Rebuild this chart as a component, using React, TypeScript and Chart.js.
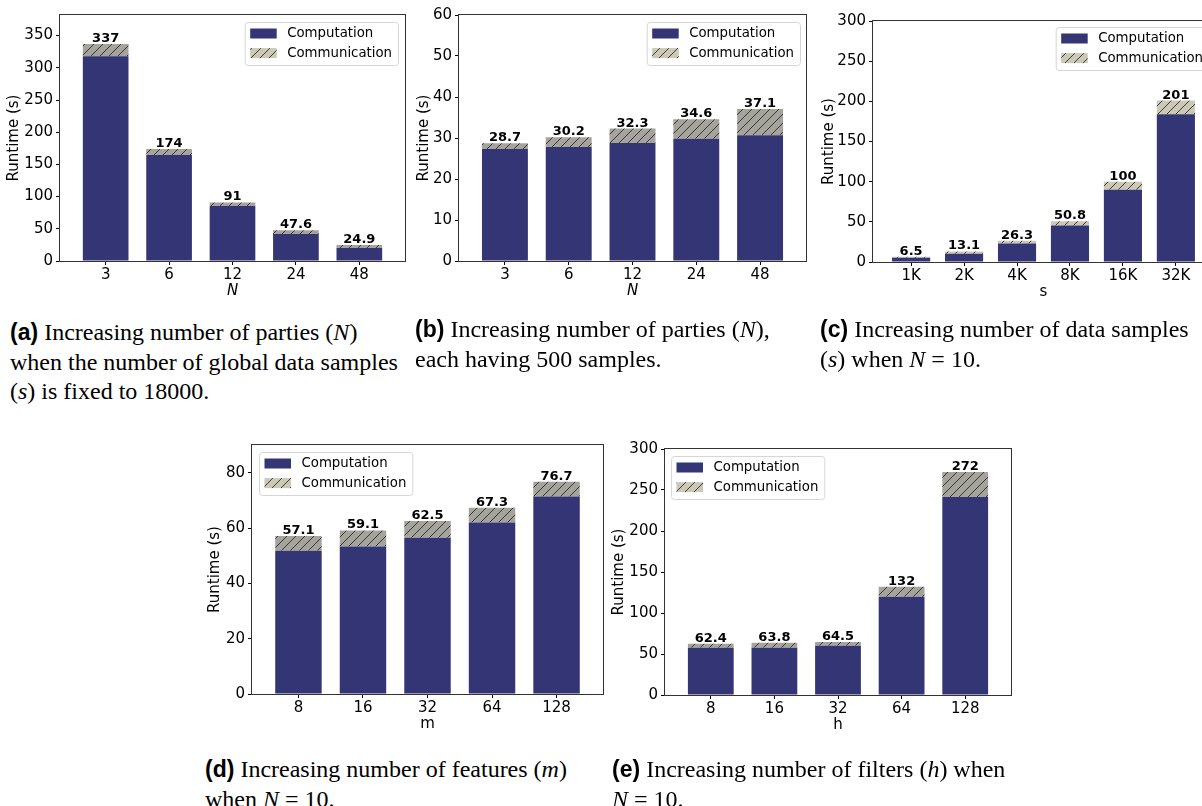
import React, { useEffect, useRef } from 'react';
import { Chart, registerables } from 'chart.js';

Chart.register(...registerables);
Chart.defaults.font.family = "'DejaVu Sans', sans-serif";
Chart.defaults.color = '#000';

// ---------- data ----------
const seriesLabels = ['Computation', 'Communication'];

// (a) Increasing number of parties, fixed global samples
const catA = ['3', '6', '12', '24', '48'];
const compA = [318, 164.5, 85.3, 41.9, 20.2];
const totalA = [337, 174, 91, 47.6, 24.9];
const ticksA = [0, 50, 100, 150, 200, 250, 300, 350];

// (b) Increasing number of parties, 500 samples each
const catB = ['3', '6', '12', '24', '48'];
const compB = [27.3, 27.8, 28.8, 29.8, 30.7];
const totalB = [28.7, 30.2, 32.3, 34.6, 37.1];
const ticksB = [0, 10, 20, 30, 40, 50, 60];

// (c) Increasing number of data samples
const catC = ['1K', '2K', '4K', '8K', '16K', '32K'];
const compC = [5.4, 10.4, 22.9, 45.4, 90, 183.8];
const totalC = [6.5, 13.1, 26.3, 50.8, 100, 201];
const ticksC = [0, 50, 100, 150, 200, 250, 300];

// (d) Increasing number of features
const catD = ['8', '16', '32', '64', '128'];
const compD = [51.8, 53.3, 56.5, 62, 71.4];
const totalD = [57.1, 59.1, 62.5, 67.3, 76.7];
const ticksD = [0, 20, 40, 60, 80];

// (e) Increasing number of filters
const catE = ['8', '16', '32', '64', '128'];
const compE = [57.7, 57.7, 60.1, 119.9, 241.5];
const totalE = [62.4, 63.8, 64.5, 132, 272];
const ticksE = [0, 50, 100, 150, 200, 250, 300];

// ---------- styles ----------
const NAVY = '#343575';
const HATCH_GRAY = '#a4a39c';
const HATCH_BEIGE = '#cbc9b6';
const HATCH_LINE = '#2b2b2b';
const PAD_T = 12;
const PAD_R = 12;
const Y_W = 60;
const X_H = 50;
const AX_FONT = 15;
const AX_LH = AX_FONT * 1.2;

function makeHatch(ctx: CanvasRenderingContext2D, bg: string, size = 9) {
  const c = document.createElement('canvas');
  c.width = size;
  c.height = size;
  const g = c.getContext('2d')!;
  g.fillStyle = bg;
  g.fillRect(0, 0, size, size);
  g.strokeStyle = HATCH_LINE;
  g.lineWidth = 0.9;
  g.beginPath();
  g.moveTo(0, size);
  g.lineTo(size, 0);
  g.moveTo(-2, 2);
  g.lineTo(2, -2);
  g.moveTo(size - 2, size + 2);
  g.lineTo(size + 2, size - 2);
  g.stroke();
  return ctx.createPattern(c, 'repeat')!;
}

const framePlugin = {
  id: 'frame',
  afterDatasetsDraw(chart: any) {
    const { ctx, chartArea: ca } = chart;
    ctx.save();
    ctx.strokeStyle = '#333';
    ctx.lineWidth = 1;
    ctx.strokeRect(Math.round(ca.left) - 0.5, Math.round(ca.top) - 0.5, Math.round(ca.right - ca.left) + 1, Math.round(ca.bottom - ca.top) + 1);
    ctx.restore();
  },
};

const valueLabelPlugin = {
  id: 'valueLabels',
  afterDatasetsDraw(chart: any, _args: any, opts: any) {
    const { ctx } = chart;
    const meta = chart.getDatasetMeta(chart.data.datasets.length - 1);
    ctx.save();
    ctx.font = "bold 13px 'DejaVu Sans'";
    ctx.fillStyle = '#000';
    ctx.textAlign = 'center';
    ctx.textBaseline = 'alphabetic';
    meta.data.forEach((el: any, i: number) => {
      ctx.fillText(String(opts.totals[i]), el.x, el.y - 2);
    });
    ctx.restore();
  },
};

const boxLegendPlugin = {
  id: 'boxLegend',
  afterDraw(chart: any, _args: any, opts: any) {
    const { ctx, chartArea: ca } = chart;
    ctx.save();
    ctx.font = "13.3px 'DejaVu Sans'";
    const labels = chart.data.datasets.map((d: any) => d.label);
    const tw = Math.max(...labels.map((l: string) => ctx.measureText(l).width));
    const w = 42.5 + tw + 6;
    const h = 43;
    const x = opts.pos === 'ul' ? ca.left + opts.inset : ca.right - opts.inset - w;
    const y = ca.top + opts.insetTop;
    ctx.beginPath();
    ctx.roundRect(x + 0.5, y + 0.5, w, h, 3);
    ctx.fillStyle = 'rgba(255,255,255,0.85)';
    ctx.fill();
    ctx.strokeStyle = '#d6d6d6';
    ctx.lineWidth = 1;
    ctx.stroke();
    labels.forEach((l: string, i: number) => {
      const rowY = y + 11.5 + i * 19.6;
      ctx.fillStyle = opts.patches[i];
      ctx.fillRect(x + 5.5, rowY - 5, 26.5, 10);
      ctx.fillStyle = '#000';
      ctx.textBaseline = 'middle';
      ctx.textAlign = 'left';
      ctx.fillText(l, x + 42.5, rowY);
    });
    ctx.restore();
  },
};

type PanelProps = {
  L: number; T: number; R: number; B: number;
  cats: string[]; comp: number[]; total: number[]; yTicks: number[]; yMax: number;
  xTitle: string; xItalic?: boolean; yTitleOff: number;
  legendPos: 'ul' | 'ur'; legendInset: number; legendInsetTop: number; commBg: string;
};

function Panel(p: PanelProps) {
  const ref = useRef<HTMLCanvasElement>(null);
  const W = p.R - p.L + Y_W + PAD_R;
  const H = p.B - p.T + PAD_T + X_H;
  useEffect(() => {
    const canvas = ref.current!;
    const ctx = canvas.getContext('2d')!;
    const commPattern = makeHatch(ctx, p.commBg);
    const legendPattern = makeHatch(ctx, HATCH_BEIGE);
    const n = p.cats.length;
    const tickGrid = { display: true, drawOnChartArea: false, drawTicks: true, tickLength: 4, color: '#000', lineWidth: 1, offset: false };
    const chart = new Chart(canvas, {
      type: 'bar',
      data: {
        datasets: [
          {
            label: seriesLabels[0],
            data: p.comp.map((v, i) => ({ x: i, y: v })),
            backgroundColor: NAVY,
            borderWidth: 0,
            barPercentage: 0.72,
            categoryPercentage: 1,
          },
          {
            label: seriesLabels[1],
            data: p.comp.map((v, i) => ({ x: i, y: +(p.total[i] - v).toFixed(3) })),
            backgroundColor: commPattern,
            borderWidth: 0,
            barPercentage: 0.72,
            categoryPercentage: 1,
          },
        ],
      } as any,
      options: {
        animation: false,
        responsive: false,
        devicePixelRatio: 1,
        layout: { padding: { left: 0, top: PAD_T, right: PAD_R, bottom: 0 } },
        plugins: {
          legend: { display: false },
          tooltip: { enabled: false },
          valueLabels: { totals: p.total },
          boxLegend: { pos: p.legendPos, inset: p.legendInset, insetTop: p.legendInsetTop, patches: [NAVY, legendPattern] },
        } as any,
        scales: {
          x: {
            type: 'linear',
            stacked: true,
            offset: false,
            min: -0.72,
            max: n - 1 + 0.72,
            grid: tickGrid,
            border: { display: false },
            ticks: {
              font: { size: AX_FONT },
              color: '#000',
              padding: 1,
              autoSkip: false,
              maxRotation: 0,
              callback: (v: any) => p.cats[v as number] ?? '',
            },
            afterBuildTicks: (s: any) => { s.ticks = p.cats.map((_, i) => ({ value: i })); },
            afterFit: (s: any) => { s.height = X_H; },
            title: {
              display: true,
              text: p.xTitle,
              color: '#000',
              font: { size: AX_FONT, style: p.xItalic ? 'italic' : 'normal' },
              padding: { top: 0, bottom: 11 },
            },
          },
          y: {
            type: 'linear',
            stacked: true,
            min: 0,
            max: p.yMax,
            grid: tickGrid,
            border: { display: false },
            ticks: { font: { size: AX_FONT }, color: '#000', padding: 3 },
            afterBuildTicks: (s: any) => { s.ticks = p.yTicks.map((v) => ({ value: v })); },
            afterFit: (s: any) => { s.width = Y_W; },
            title: {
              display: true,
              text: 'Runtime (s)',
              color: '#000',
              font: { size: AX_FONT },
              padding: { top: Y_W - AX_LH / 2 - p.yTitleOff, bottom: 0 },
            },
          },
        } as any,
      },
      plugins: [framePlugin, valueLabelPlugin, boxLegendPlugin] as any,
    });
    return () => chart.destroy();
  }, []);
  return (
    <canvas
      ref={ref}
      width={W}
      height={H}
      style={{ position: 'absolute', left: p.L - Y_W, top: p.T - PAD_T, width: W, height: H }}
    />
  );
}

const capStyle: React.CSSProperties = {
  position: 'absolute',
  fontFamily: "'Liberation Serif', 'Times New Roman', serif",
  fontSize: 24,
  lineHeight: '29.5px',
  whiteSpace: 'nowrap',
  color: '#000',
};
const tagStyle: React.CSSProperties = {
  fontFamily: "'Liberation Sans', Arial, sans-serif",
  fontWeight: 'bold',
  fontSize: 23,
};

function Caption({ left, top, tag, children }: { left: number; top: number; tag: string; children: React.ReactNode }) {
  return (
    <div style={{ ...capStyle, left, top }}>
      <span style={tagStyle}>({tag})</span> {children}
    </div>
  );
}

export default function App() {
  return (
    <div style={{ position: 'absolute', left: 0, top: 0, width: 1202, height: 806, overflow: 'hidden', background: '#fff' }}>
      <Panel L={60} T={15} R={405} B={261} cats={catA} comp={compA} total={totalA} yTicks={ticksA} yMax={382}
        xTitle="N" xItalic yTitleOff={46} legendPos="ur" legendInset={7} legendInsetTop={7} commBg={HATCH_GRAY} />
      <Panel L={459} T={15} R={806} B={261} cats={catB} comp={compB} total={totalB} yTicks={ticksB} yMax={60}
        xTitle="N" xItalic yTitleOff={35} legendPos="ur" legendInset={6} legendInsetTop={7} commBg={HATCH_GRAY} />
      <Panel L={873} T={21} R={1214} B={262} cats={catC} comp={compC} total={totalC} yTicks={ticksC} yMax={300}
        xTitle="s" yTitleOff={44} legendPos="ur" legendInset={5} legendInsetTop={6} commBg={HATCH_BEIGE} />
      <Panel L={252} T={445} R={603} B={694} cats={catD} comp={compD} total={totalD} yTicks={ticksD} yMax={90}
        xTitle="m" yTitleOff={37} legendPos="ul" legendInset={7} legendInsetTop={7} commBg={HATCH_GRAY} />
      <Panel L={665} T={449} R={1011} B={695} cats={catE} comp={compE} total={totalE} yTicks={ticksE} yMax={300}
        xTitle="h" yTitleOff={46} legendPos="ul" legendInset={6} legendInsetTop={7} commBg={HATCH_GRAY} />

      <Caption left={10} top={318} tag="a">
        Increasing number of parties (<i>N</i>)<br />when the number of global data samples<br />(<i>s</i>) is fixed to 18000.
      </Caption>
      <Caption left={415} top={315} tag="b">
        Increasing number of parties (<i>N</i>),<br />each having 500 samples.
      </Caption>
      <Caption left={820} top={315} tag="c">
        Increasing number of data samples<br />(<i>s</i>) when <i>N</i> = 10.
      </Caption>
      <Caption left={205} top={755} tag="d">
        Increasing number of features (<i>m</i>)<br />when <i>N</i> = 10.
      </Caption>
      <Caption left={612} top={755} tag="e">
        Increasing number of filters (<i>h</i>) when<br /><i>N</i> = 10.
      </Caption>
    </div>
  );
}
